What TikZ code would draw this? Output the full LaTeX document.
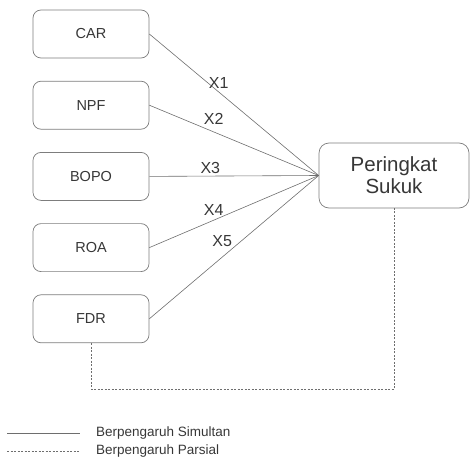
\documentclass[tikz,border=0pt]{standalone}
\usepackage{fontspec}
\setmainfont{Liberation Sans}
\usepackage{tikz}
\usetikzlibrary{positioning, calc}
\definecolor{mytext}{RGB}{55,55,55}
\definecolor{myline}{RGB}{110,110,110}
\definecolor{myborder}{RGB}{125,125,125}
\tikzset{
  varbox/.style={rectangle, draw=myborder, fill=white,
    minimum width=116pt, minimum height=48pt, text=mytext,
    font=\fontsize{14.5}{17}\selectfont, rounded corners=8pt, line width=0.7pt},
  depbox/.style={rectangle, draw=myborder, fill=white, align=center,
    minimum width=150pt, minimum height=65pt, text=mytext,
    font=\fontsize{20.5}{22}\selectfont, rounded corners=10pt, line width=0.7pt},
  lbl/.style={text=mytext, inner sep=0pt, font=\fontsize{16}{18}\selectfont},
  legtext/.style={text=mytext, inner sep=0pt, anchor=west, font=\fontsize{13.5}{16}\selectfont},
  simline/.style={color=myline, line width=0.6pt},
  parline/.style={color=myline, line width=0.8pt, dash pattern=on 2pt off 1.5pt}
}
\begin{document}
\begin{tikzpicture}[x=1pt, y=-1pt]
  \useasboundingbox (0,0) rectangle (470,465);
  % independent variables
  \node[varbox] (car) at (91,34) {CAR};
  \node[varbox, below=22.5pt of car] (npf) {NPF};
  \node[varbox, below=22.5pt of npf] (bopo) {BOPO};
  \node[varbox, below=22.5pt of bopo] (roa) {ROA};
  \node[varbox, below=22.5pt of roa] (fdr) {FDR};
  % dependent variable
  \node[depbox] (sukuk) at (394,175.5) {Peringkat\\Sukuk};

  % simultaneous effect
  \draw[simline] (car.east) -- node[lbl, pos=0.41, yshift=9pt] {X1} (sukuk.west);
  \draw[simline] (npf.east) -- node[lbl, pos=0.38, yshift=13pt] {X2} (sukuk.west);
  \draw[simline] (bopo.east) -- node[lbl, pos=0.36, yshift=8.5pt] {X3} (sukuk.west);
  \draw[simline] (roa.east) -- node[lbl, pos=0.38, yshift=10.5pt] {X4} (sukuk.west);
  \draw[simline] (fdr.east) -- node[lbl, pos=0.43, yshift=16pt] {X5} (sukuk.west);

  % partial effect
  \draw[parline] (fdr.south) -- ++(0,46) -| (sukuk.south);

  % legend
  \coordinate (s1) at (7,433);
  \coordinate (s2) at (80,433);
  \coordinate (p1) at (7,451);
  \coordinate (p2) at (80,451);
  \draw[simline] (s1) -- (s2);
  \draw[parline] (p1) -- (p2);
  \node[legtext] (simtext) at (96,433) {Berpengaruh Simultan};
  \node[legtext] (partext) at (96,451) {Berpengaruh Parsial};
\end{tikzpicture}
\end{document}
